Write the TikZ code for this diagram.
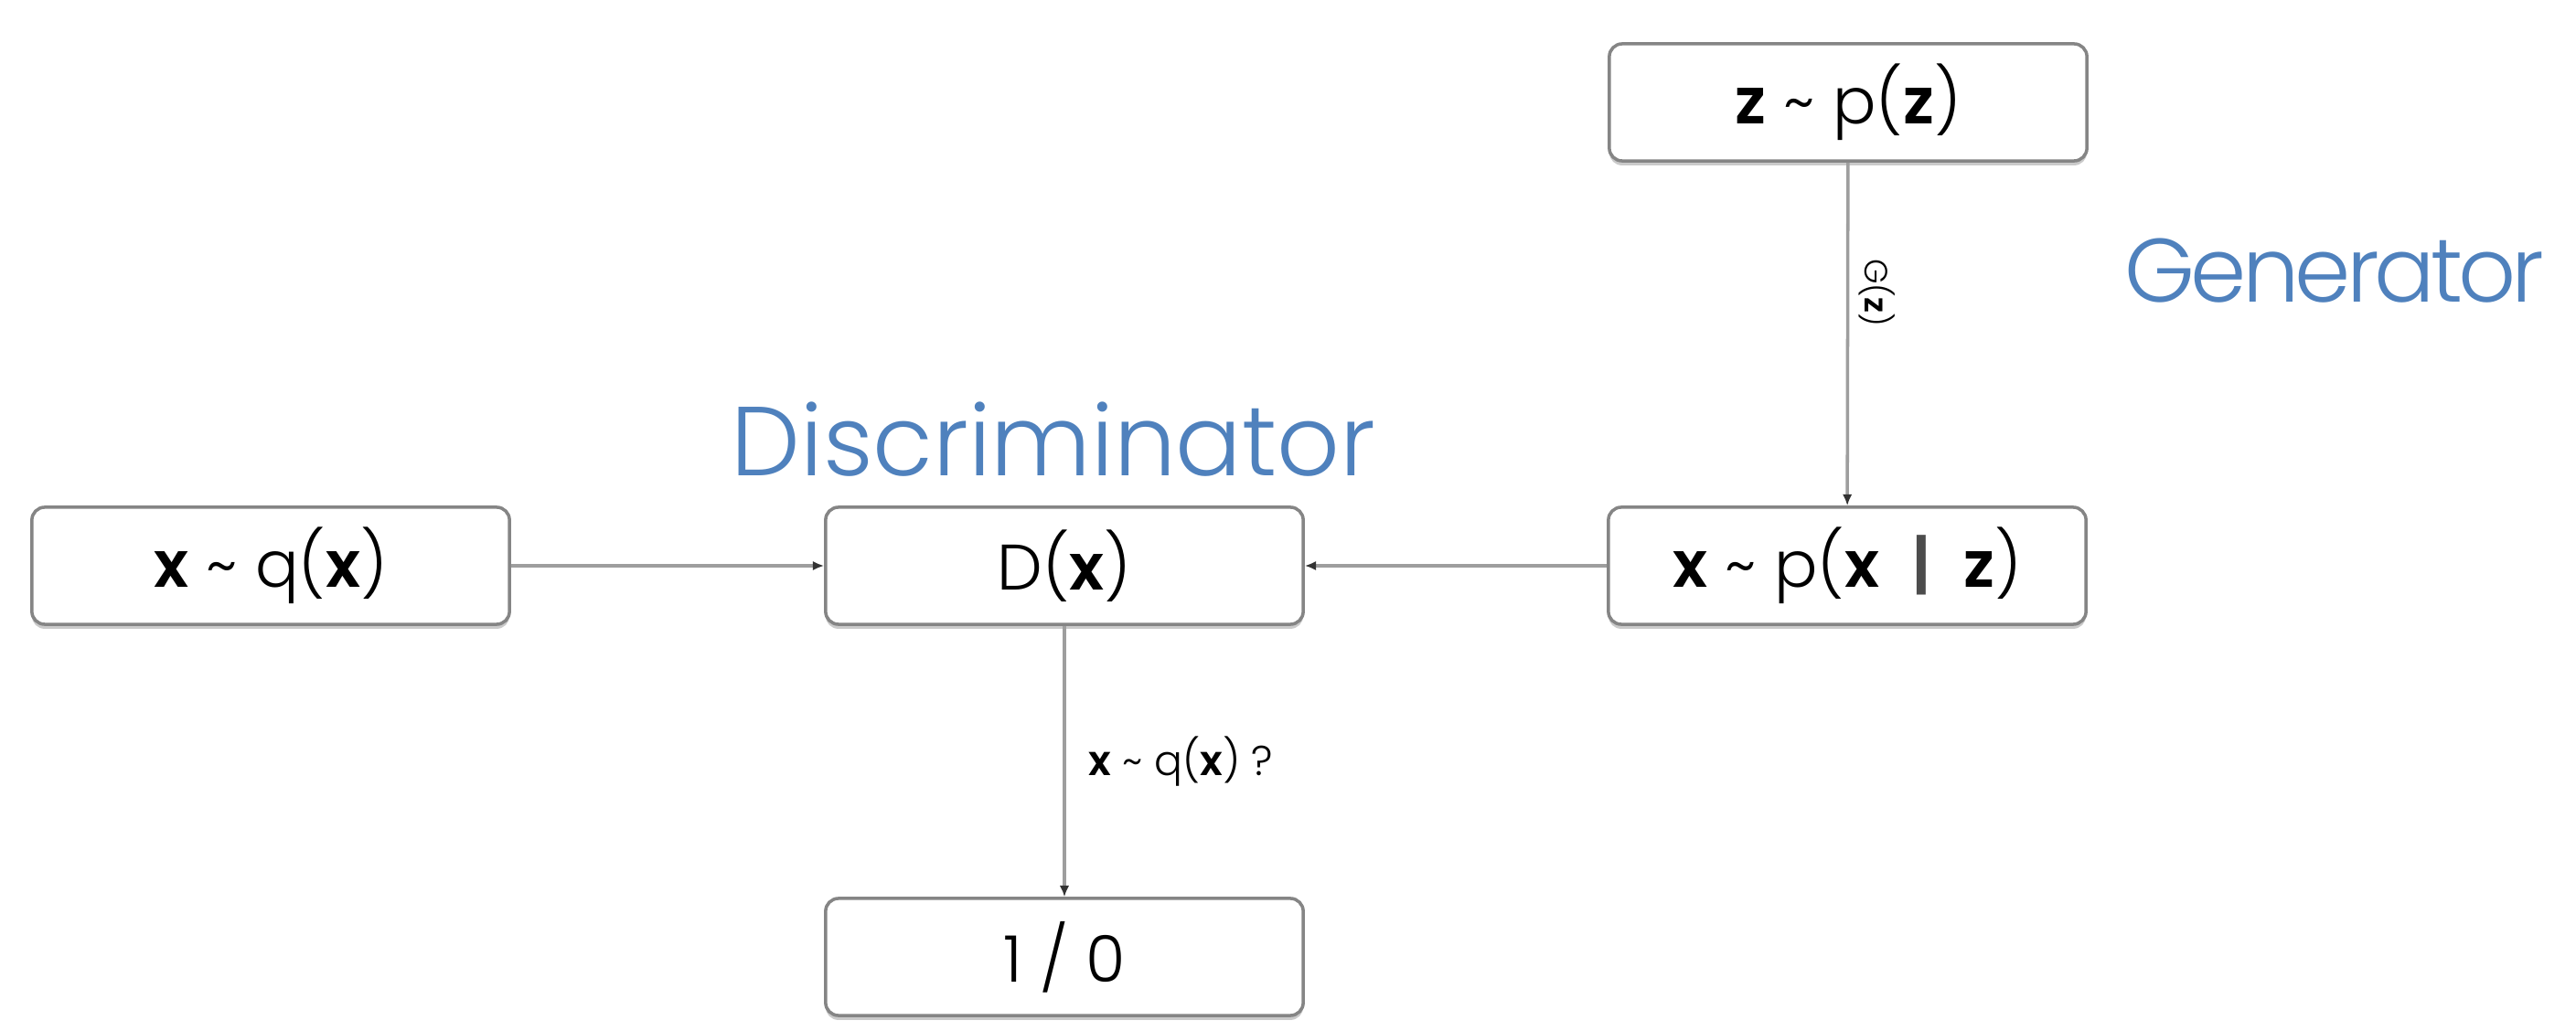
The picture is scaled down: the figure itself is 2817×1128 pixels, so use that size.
\documentclass[tikz,border=0pt]{standalone}
\usepackage{fontspec}
\setmainfont{Poppins}[UprightFont=* Light, BoldFont=* SemiBold]
\usetikzlibrary{arrows.meta,shadows}
\definecolor{boxline}{HTML}{858585}
\definecolor{wireline}{HTML}{9E9E9E}
\definecolor{titleblue}{HTML}{4F81BD}
\definecolor{shadowgray}{HTML}{CACACA}
\tikzset{
  box/.style={draw=boxline, line width=1pt, rounded corners=4pt, fill=white,
    minimum width=5.22cm, minimum height=1.28cm, inner sep=0pt,
    font=\fontsize{20}{24}\selectfont,
    drop shadow={shadow xshift=0pt, shadow yshift=-1.4pt, fill=shadowgray, opacity=1}},
  wire/.style={draw=wireline, line width=1pt,
    -{Latex[length=3.5pt,width=3pt,color=black!80]}},
  title/.style={text=titleblue, inner sep=0pt},
  lbl/.style={inner sep=0pt}
}
\begin{document}
\begin{tikzpicture}[x=0.01cm,y=-0.01cm]
  \useasboundingbox[fill=white] (0,0) rectangle (2817,1128);

  % boxes
  \node[box] (zp)  at (2021,112)  {\textbf{z} \textasciitilde{} p(\textbf{z})};
  \node[box] (xq)  at (296,619)   {\textbf{x} \textasciitilde{} q(\textbf{x})};
  \node[box] (dx)  at (1164,619)  {D(\textbf{x})};
  \node[box] (xp)  at (2020,619)
    {\textbf{x} \textasciitilde{} p(\textbf{x}\enspace{\color{black!70}\textbf{|}}\enspace\textbf{z})};
  \node[box] (out) at (1164,1047) {1 / 0};

  % headings
  \node[title, font=\fontsize{30.5}{36}\selectfont] (disc) at (1152,481) {Discriminator};
  \node[title, font=\fontsize{28}{34}\selectfont\addfontfeature{LetterSpace=-5}] (gen) at (2553,296) {Generator};

  % connectors
  \draw[wire] (xq) -- (dx);
  \draw[wire] (xp) -- (dx);
  \draw[wire] (zp) -- node[lbl, pos=0.38, rotate=-90, anchor=south, yshift=3pt,
      font=\fontsize{10}{12}\selectfont] (glabel) {G(\textbf{z})} (xp);
  \draw[wire] (dx) -- node[lbl, pos=0.5, anchor=west, xshift=7pt,
      font=\fontsize{13}{15}\selectfont] (qlabel) {\textbf{x} \textasciitilde{} q(\textbf{x}) ?} (out);
\end{tikzpicture}
\end{document}
